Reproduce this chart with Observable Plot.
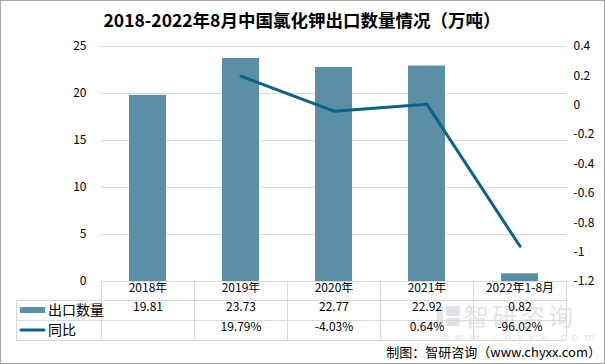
<!DOCTYPE html>
<html><head><meta charset="utf-8">
<script src="https://cdn.jsdelivr.net/npm/d3@7"></script>
<script src="https://cdn.jsdelivr.net/npm/@observablehq/plot@0.6"></script>
<style>html,body{margin:0;padding:0;background:#fff;}</style>
</head><body><div id="chart"></div>
<script>
const categories = ["2018年", "2019年", "2020年", "2021年", "2022年1-8月"];
const exportVolume = [19.81, 23.73, 22.77, 22.92, 0.82];
const yoyRate = [null, 0.1979, -0.0403, 0.0064, -0.9602];
const volumeLabels = ["19.81", "23.73", "22.77", "22.92", "0.82"];
const yoyLabels = ["", "19.79%", "-4.03%", "0.64%", "-96.02%"];
const leftTicks = [0, 5, 10, 15, 20, 25];
const rightTicks = [0.4, 0.2, 0, -0.2, -0.4, -0.6, -0.8, -1, -1.2];
const titleText = "2018-2022年8月中国氯化钾出口数量情况（万吨）";
const seriesNames = ["出口数量", "同比"];
const footerText = "制图：智研咨询（www.chyxx.com）";

const barColor = "#5b8fa6";
const lineColor = "#0d6384";
const gridColor = "#d9d9d9";
const FONT = "'Noto Sans CJK SC', 'Noto Sans', sans-serif";

const rows = categories.map((c, i) => ({cat: c, vol: exportVolume[i], rate: yoyRate[i], vl: volumeLabels[i], rl: yoyLabels[i]}));
const r2l = d3.scaleLinear([-1.2, 0.4], [0, 25]);

const W = 605, H = 364;
const chart = Plot.plot({
  width: W, height: H,
  marginTop: 46, marginBottom: 83, marginLeft: 100, marginRight: 38,
  style: {fontFamily: FONT, fontSize: "12px", background: "#fff", color: "#000"},
  x: {type: "band", domain: categories, padding: 0, axis: null},
  y: {domain: [0, 25], axis: null},
  marks: [
    Plot.gridY(leftTicks.filter(t => t > 0), {stroke: gridColor, strokeOpacity: 1}),
    Plot.axisY(leftTicks, {anchor: "left", label: null, tickSize: 0, tickPadding: 14, fontSize: 12, tickFormat: d => String(d)}),
    Plot.axisY(rightTicks.map(t => r2l(t)), {anchor: "right", label: null, tickSize: 0, tickPadding: 6, fontSize: 12,
      tickFormat: v => { const t = +r2l.invert(v).toFixed(1); return t === 0 ? "0" : String(t); }}),
    Plot.barY(rows, {x: "cat", y: "vol", fill: barColor, insetLeft: 28, insetRight: 28}),
    Plot.line(rows.filter(d => d.rate != null), {x: "cat", y: d => r2l(d.rate), stroke: lineColor, strokeWidth: 3}),
    Plot.text(rows, {x: "cat", text: "cat", frameAnchor: "bottom", dy: 10, fontSize: 12}),
    Plot.text(rows, {x: "cat", text: "vl", frameAnchor: "bottom", dy: 29, fontSize: 12}),
    Plot.text(rows, {x: "cat", text: "rl", frameAnchor: "bottom", dy: 49, fontSize: 12})
  ]
});

const svg = d3.select(chart);
const xs = chart.scale("x");
const bw = xs.bandwidth;
const x0 = xs.apply(categories[0]);
const x1 = xs.apply(categories[categories.length - 1]) + bw;
const yTop = H - 83; // frame bottom
const rowY = [yTop, yTop + 19, yTop + 39, yTop + 59];
const tableLeft = 16;
const g = svg.append("g").attr("stroke", gridColor).attr("stroke-width", 1).attr("fill", "none").attr("shape-rendering", "crispEdges");
g.append("line").attr("x1", x0).attr("x2", x1).attr("y1", rowY[0] + 0.5).attr("y2", rowY[0] + 0.5);
[1, 2, 3].forEach(k => g.append("line").attr("x1", tableLeft).attr("x2", x1).attr("y1", rowY[k] + 0.5).attr("y2", rowY[k] + 0.5));
g.append("line").attr("x1", tableLeft + 0.5).attr("x2", tableLeft + 0.5).attr("y1", rowY[1]).attr("y2", rowY[3]);
categories.forEach(c => {
  const xx = Math.round(xs.apply(c)) + 0.5;
  g.append("line").attr("x1", xx).attr("x2", xx).attr("y1", rowY[0]).attr("y2", rowY[3]);
});
g.append("line").attr("x1", Math.round(x1) + 0.5).attr("x2", Math.round(x1) + 0.5).attr("y1", rowY[0]).attr("y2", rowY[3]);

// watermark (faint, behind text)
const wm = svg.insert("g", ":first-child").attr("fill", "#c3c7cd").attr("fill-opacity", 0.5).attr("font-family", FONT).attr("text-anchor", "start");
wm.append("rect").attr("x", 437).attr("y", 306).attr("width", 6).attr("height", 20).attr("rx", 1);
wm.append("rect").attr("x", 446).attr("y", 306).attr("width", 14).attr("height", 10).attr("rx", 2);
wm.append("rect").attr("x", 446).attr("y", 318).attr("width", 14).attr("height", 8).attr("rx", 2);
wm.append("text").attr("x", 464).attr("y", 326).attr("font-size", 25).attr("letter-spacing", "3").text("智研咨询");
wm.append("text").attr("x", 440).attr("y", 341).attr("font-size", 11).attr("letter-spacing", "6").text("www.chyxx.com");

// legend keys in table
const lg = svg.append("g").attr("font-family", FONT).attr("text-anchor", "start");
lg.append("rect").attr("x", 20).attr("y", 307).attr("width", 25).attr("height", 6).attr("fill", barColor);
lg.append("line").attr("x1", 21).attr("x2", 44).attr("y1", 330).attr("y2", 330).attr("stroke", lineColor).attr("stroke-width", 3).attr("stroke-linecap", "round");
lg.append("text").attr("x", 48).attr("y", 310).attr("dy", "0.35em").attr("font-size", 14).text(seriesNames[0]);
lg.append("text").attr("x", 48).attr("y", 330).attr("dy", "0.35em").attr("font-size", 14).text(seriesNames[1]);

// title & footer
svg.append("text").attr("x", 302).attr("y", 21).attr("text-anchor", "middle").attr("dy", "0.35em")
  .attr("font-family", FONT).attr("font-size", 17.5).attr("font-weight", "bold").text(titleText);
svg.append("text").attr("x", 601).attr("y", 352).attr("text-anchor", "end").attr("dy", "0.35em")
  .attr("font-family", FONT).attr("font-size", 13).text(footerText);

svg.append("rect").attr("x", 0.5).attr("y", 0.5).attr("width", W - 1).attr("height", H - 1)
  .attr("fill", "none").attr("stroke", "#a6a6a6").attr("stroke-width", 1);

document.getElementById("chart").appendChild(chart);
</script></body></html>
